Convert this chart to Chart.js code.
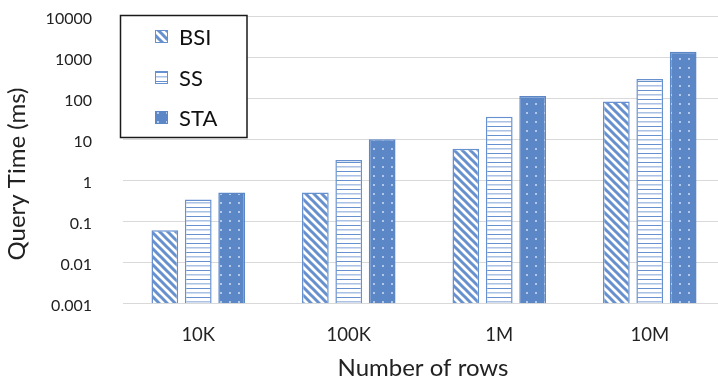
<!DOCTYPE html>
<html>
<head>
<meta charset="utf-8">
<script src="https://cdn.jsdelivr.net/npm/chart.js@4/dist/chart.umd.min.js"></script>
<style>
  html, body { margin: 0; padding: 0; background: #fff; overflow: hidden; }
  #wrap { position: relative; width: 725px; height: 382px; }
</style>
</head>
<body>
<div id="wrap"><canvas id="c" width="725" height="382"></canvas></div>
<script>
// Query time per table size (ms), log scale
const categories = ['10K', '100K', '1M', '10M'];
const bsiTimes = [0.06, 0.5, 5.8, 82];
const ssTimes  = [0.34, 3.1, 35, 290];
const staTimes = [0.5, 10, 112, 1350];
const seriesNames = ['BSI', 'SS', 'STA'];
const yTickValues = [0.001, 0.01, 0.1, 1, 10, 100, 1000, 10000];
const yTickLabels = ['0.001', '0.01', '0.1', '1', '10', '100', '1000', '10000'];
const xTitle = 'Number of rows';
const yTitle = 'Query Time (ms)';

const FONT = 'Lato';
const TEXT = '#222222';
const BLUE = '#5B87C7';
const LINE_BLUE = '#6690CE';
const GRID = '#D9D9D9';

function tile(w, h, paint) {
  const t = document.createElement('canvas');
  t.width = w; t.height = h;
  paint(t.getContext('2d'), w, h);
  return document.getElementById('c').getContext('2d').createPattern(t, 'repeat');
}

// wide downward diagonal stripes
const stripes = tile(8, 8, (g, w, h) => {
  g.fillStyle = '#fff'; g.fillRect(0, 0, w, h);
  g.strokeStyle = LINE_BLUE; g.lineWidth = 3;
  g.beginPath();
  g.moveTo(-2, -2); g.lineTo(10, 10);
  g.moveTo(-2, 6); g.lineTo(2, 10);
  g.moveTo(6, -2); g.lineTo(10, 2);
  g.stroke();
});

// narrow horizontal lines
const hlines = tile(8, 9, (g, w, h) => {
  g.fillStyle = '#fff'; g.fillRect(0, 0, w, h);
  g.fillStyle = LINE_BLUE; g.fillRect(0, 0, w, 1);
  g.globalAlpha = 0.55; g.fillRect(0, 4, w, 1);
  g.globalAlpha = 0.3; g.fillRect(0, 5, w, 1);
});

// solid fill with light dots
const dots = tile(9, 9, (g, w, h) => {
  g.fillStyle = BLUE; g.fillRect(0, 0, w, h);
  g.fillStyle = '#B3C7E8'; g.fillRect(4, 4, 2, 2);
});

const fills = [stripes, hlines, dots];
const borders = [LINE_BLUE, LINE_BLUE, BLUE];
const values = [bsiTimes, ssTimes, staTimes];

const overlay = {
  id: 'overlay',
  afterDraw(chart) {
    const ctx = chart.ctx;
    ctx.save();
    ctx.fillStyle = TEXT;
    ctx.textBaseline = 'middle';
    ctx.textAlign = 'center';
    ctx.font = `24px ${FONT}`;
    ctx.fillText(xTitle, 423, 368);
    ctx.save();
    ctx.translate(17, 174);
    ctx.rotate(-Math.PI / 2);
    ctx.fillText(yTitle, 0, 0);
    ctx.restore();

    // legend box inside the plot
    ctx.fillStyle = '#fff';
    ctx.fillRect(120.5, 15.5, 126.5, 122);
    ctx.strokeStyle = '#1a1a1a';
    ctx.lineWidth = 1.5;
    ctx.strokeRect(120.5, 15.5, 126.5, 122);
    const rows = [36.5, 77.5, 117.5];
    ctx.font = `22px ${FONT}`;
    ctx.textAlign = 'left';
    chart.data.datasets.forEach((ds, i) => {
      const y = rows[i];
      ctx.fillStyle = ds.backgroundColor;
      ctx.fillRect(155.5, y - 6, 12, 12);
      ctx.strokeStyle = ds.borderColor;
      ctx.lineWidth = 1;
      ctx.strokeRect(155.5, y - 6, 12, 12);
      ctx.fillStyle = '#111';
      ctx.fillText(ds.label, 179, y + 1);
    });
    ctx.restore();
  }
};

function draw() {
  new Chart(document.getElementById('c'), {
    type: 'bar',
    data: {
      labels: categories,
      datasets: seriesNames.map((name, i) => ({
        label: name,
        data: values[i],
        backgroundColor: fills[i],
        borderColor: borders[i],
        borderWidth: 1.5,
        categoryPercentage: 0.666,
        barPercentage: 0.8
      }))
    },
    options: {
      responsive: false,
      animation: false,
      devicePixelRatio: 1,
      layout: { padding: { top: 16, left: 0, right: 0, bottom: 0 } },
      plugins: { legend: { display: false }, tooltip: { enabled: false } },
      scales: {
        x: {
          grid: { display: false, drawTicks: false },
          border: { display: true, color: GRID, width: 1 },
          ticks: { font: { family: FONT, size: 18.5 }, color: TEXT, padding: 21 },
          afterFit(s) { s.height = 382 - 303.3; }
        },
        y: {
          type: 'logarithmic',
          min: 0.001,
          max: 10000,
          grid: { color: GRID, lineWidth: 1, drawTicks: false },
          border: { display: false },
          ticks: {
            font: { family: FONT, size: 16 },
            color: TEXT,
            padding: 31,
            labelOffset: 2.5,
            callback: (v) => yTickLabels[yTickValues.indexOf(v)]
          },
          afterBuildTicks(s) { s.ticks = yTickValues.map(v => ({ value: v })); },
          afterFit(s) {
            s.width = 123;
            // the wide label gap should not push the plot down
            s.paddingTop = 0;
            s.paddingBottom = 0;
          }
        }
      }
    },
    plugins: [overlay]
  });
}

if (document.fonts && document.fonts.load) {
  Promise.all([document.fonts.load(`16px ${FONT}`), document.fonts.load(`24px ${FONT}`)]).then(draw, draw);
} else {
  draw();
}
</script>
</body>
</html>
